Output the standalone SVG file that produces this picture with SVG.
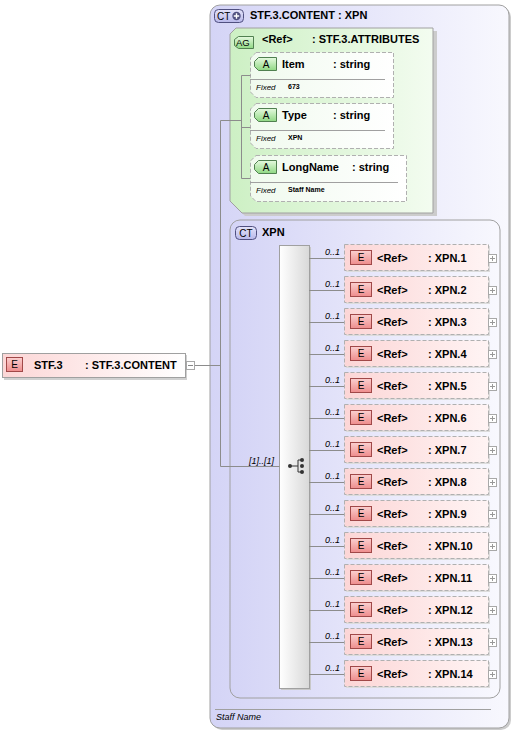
<svg xmlns="http://www.w3.org/2000/svg" width="514" height="732" viewBox="0 0 514 732">
<defs>
<linearGradient id="gCT" x1="0" y1="0" x2="1" y2="0"><stop offset="0" stop-color="#d4d4f6"/><stop offset="1" stop-color="#f8f8fe"/></linearGradient>
<linearGradient id="gAG" x1="0" y1="0" x2="1" y2="0"><stop offset="0" stop-color="#cdf0c4"/><stop offset="1" stop-color="#f3fcf0"/></linearGradient>
<linearGradient id="gAttr" x1="0" y1="0" x2="1" y2="0"><stop offset="0" stop-color="#f0faee"/><stop offset="1" stop-color="#ffffff"/></linearGradient>
<linearGradient id="gEl" x1="0" y1="0" x2="1" y2="0"><stop offset="0" stop-color="#fcd6d6"/><stop offset="1" stop-color="#fff4f4"/></linearGradient>
<linearGradient id="gMain" x1="0" y1="0" x2="1" y2="0"><stop offset="0" stop-color="#fcd6d6"/><stop offset="1" stop-color="#ffffff"/></linearGradient>
<linearGradient id="gE" x1="0" y1="0" x2="0" y2="1"><stop offset="0" stop-color="#fbd0d0"/><stop offset="1" stop-color="#ee8c8c"/></linearGradient>
<linearGradient id="gA" x1="0" y1="0" x2="0" y2="1"><stop offset="0" stop-color="#e6fae0"/><stop offset="1" stop-color="#8fd883"/></linearGradient>
<linearGradient id="gCTb" x1="0" y1="0" x2="0" y2="1"><stop offset="0" stop-color="#e4e4fa"/><stop offset="1" stop-color="#b8b8ea"/></linearGradient>
<linearGradient id="gSeq" x1="0" y1="0" x2="1" y2="0"><stop offset="0" stop-color="#ffffff"/><stop offset="1" stop-color="#d8d8d8"/></linearGradient>
</defs>
<style>
text{font-family:"Liberation Sans",Arial,sans-serif;fill:#000}
.b{font-weight:bold;font-size:11px}
.fx{font-style:italic;font-size:8px}
.fv{font-weight:bold;font-size:7px}
.occ{font-style:italic;font-size:9px}
.ln{stroke:#8c8c8c;stroke-width:1;fill:none}
.dash{stroke:#b0b0b0;stroke-dasharray:4,2;stroke-width:1}
.eb{fill:url(#gE);stroke:#a04848;stroke-width:1}
.bl{font-size:10px;text-anchor:middle}
.pm{fill:#fff;stroke:#a8a8a8;stroke-width:1}
</style>

<g id="ct-outer">
<rect x="212" y="7" width="299" height="723" rx="10" fill="#cccccc"/>
<rect x="210" y="5" width="299" height="723" rx="10" fill="url(#gCT)" stroke="#a0a0a0"/>
<rect x="214.5" y="9.5" width="29" height="13" rx="4" fill="url(#gCTb)" stroke="#505080"/>
<text x="217" y="20" style="font-size:10px">CT</text>
<circle cx="236.5" cy="16" r="4.2" fill="#505080"/>
<path d="M233.8 16h5.4M236.5 13.3v5.4" stroke="#fff" stroke-width="1.4"/>
<text class="b" x="250" y="19">STF.3.CONTENT : XPN</text>
<line x1="215" y1="709.5" x2="491" y2="709.5" stroke="#a0a0a0"/>
<text class="fx" x="216" y="720" style="font-size:9px">Staff Name</text>
</g>

<g id="ag">
<path d="M239 31h198v185h-192l-12-12v-167z" fill="#cccccc"/>
<path d="M236 28h197v185h-191l-12-12v-167z" fill="url(#gAG)" stroke="#a0a0a0"/>
<path d="M238.5 36.5h15v12h-15l-4-3v-6z" fill="url(#gA)" stroke="#508050"/>
<text x="236" y="46" style="font-size:9.5px">AG</text>
<text class="b" x="262" y="43">&lt;Ref&gt;</text>
<text class="b" x="312" y="43">: STF.3.ATTRIBUTES</text>
</g>

<g id="attr-item">
<path d="M256 52.5h137.5v45h-137.5l-5.5-5.5v-34z" fill="url(#gAttr)" class="dash"/>
<path d="M258.5 57.5h18v13h-18l-4-4v-5z" fill="url(#gA)" stroke="#508050"/>
<text class="bl" x="266" y="67.5">A</text>
<text class="b" x="282" y="68">Item</text>
<text class="b" x="333" y="68">: string</text>
<line x1="250" y1="79.5" x2="385" y2="79.5" stroke="#a0a0a0"/>
<text class="fx" x="256" y="90">Fixed</text>
<text class="fv" x="288" y="89">673</text>
</g>
<g id="attr-type">
<path d="M256 103.5h137.5v45h-137.5l-5.5-5.5v-34z" fill="url(#gAttr)" class="dash"/>
<path d="M258.5 108.5h18v13h-18l-4-4v-5z" fill="url(#gA)" stroke="#508050"/>
<text class="bl" x="266" y="118.5">A</text>
<text class="b" x="282" y="119">Type</text>
<text class="b" x="333" y="119">: string</text>
<line x1="250" y1="130.5" x2="385" y2="130.5" stroke="#a0a0a0"/>
<text class="fx" x="256" y="141">Fixed</text>
<text class="fv" x="288" y="140">XPN</text>
</g>
<g id="attr-longname">
<path d="M256 155.5h150.5v46h-150.5l-5.5-5.5v-35z" fill="url(#gAttr)" class="dash"/>
<path d="M258.5 160.5h18v13h-18l-4-4v-5z" fill="url(#gA)" stroke="#508050"/>
<text class="bl" x="266" y="170.5">A</text>
<text class="b" x="282" y="171">LongName</text>
<text class="b" x="352" y="171">: string</text>
<line x1="250" y1="182.5" x2="398" y2="182.5" stroke="#a0a0a0"/>
<text class="fx" x="256" y="193">Fixed</text>
<text class="fv" x="288" y="192">Staff Name</text>
</g>

<g id="ct-xpn">
<rect x="230" y="220" width="270" height="478" rx="10" fill="url(#gCT)" stroke="#a0a0a0"/>
<rect x="235.5" y="226.5" width="21" height="13" rx="4" fill="url(#gCTb)" stroke="#505080"/>
<text class="bl" x="246" y="237">CT</text>
<text class="b" x="262" y="236">XPN</text>
</g>

<g id="main">
<rect x="4" y="355" width="183" height="25" fill="#d0d0d0"/>
<rect x="2.5" y="353.5" width="183" height="24" fill="url(#gMain)" stroke="#a0a0a0"/>
<rect x="6.5" y="357.5" width="16" height="14" class="eb"/>
<text class="bl" x="14.5" y="368">E</text>
<text class="b" x="34" y="369">STF.3</text>
<text class="b" x="85" y="369">: STF.3.CONTENT</text>
<rect x="186.5" y="361.5" width="8" height="8" class="pm"/>
<line x1="188" y1="365.5" x2="193" y2="365.5" stroke="#888"/>
</g>

<g id="sequence">
<rect x="281" y="247" width="30" height="443" fill="#c8c8c8"/>
<rect x="279.5" y="245.5" width="30" height="443" fill="url(#gSeq)" stroke="#a0a0a0"/>
<line x1="290" y1="466" x2="298" y2="466" stroke="#333"/>
<line x1="298" y1="460" x2="298" y2="472" stroke="#333"/>
<path d="M298 460h4M298 472h4" stroke="#333"/>
<circle cx="290" cy="466" r="2" fill="#333"/>
<circle cx="302" cy="460" r="2" fill="#333"/>
<circle cx="302" cy="466" r="2" fill="#333"/>
<circle cx="302" cy="472" r="2" fill="#333"/>
</g>

<g id="connectors" class="ln">
<path d="M195 365.5h25.5M220.5 120.5v346M220.5 466.5h59"/>
<path d="M220.5 120.5h20.5M241.5 75.5v103M241.5 75.5h9M241.5 127.5h9M241.5 178.5h9"/>
<path d="M309 258.5h35M309 290.5h35M309 322.5h35M309 354.5h35M309 386.5h35M309 418.5h35M309 450.5h35M309 482.5h35M309 514.5h35M309 546.5h35M309 578.5h35M309 610.5h35M309 642.5h35M309 674.5h35"/>
</g>
<text class="occ" x="249" y="464">[1]..[1]</text>

<g id="labels-occ">
<text class="occ" x="325" y="255">0..1</text>
<text class="occ" x="325" y="287">0..1</text>
<text class="occ" x="325" y="319">0..1</text>
<text class="occ" x="325" y="351">0..1</text>
<text class="occ" x="325" y="383">0..1</text>
<text class="occ" x="325" y="415">0..1</text>
<text class="occ" x="325" y="447">0..1</text>
<text class="occ" x="325" y="479">0..1</text>
<text class="occ" x="325" y="511">0..1</text>
<text class="occ" x="325" y="543">0..1</text>
<text class="occ" x="325" y="575">0..1</text>
<text class="occ" x="325" y="607">0..1</text>
<text class="occ" x="325" y="639">0..1</text>
<text class="occ" x="325" y="671">0..1</text>
</g>

<defs>
<g id="elbox">
<rect x="2" y="2" width="144" height="26" fill="#dcdcdc"/>
<rect x="0.5" y="0.5" width="144" height="26" fill="url(#gEl)" class="dash"/>
<rect x="6.5" y="6.5" width="21" height="14" class="eb"/>
<text class="bl" x="17" y="17">E</text>
<text class="b" x="33" y="18">&lt;Ref&gt;</text>
<rect x="144.5" y="10.5" width="8" height="8" class="pm"/>
<path d="M146 14.5h5M148.5 12v5" stroke="#999"/>
</g>
</defs>

<g id="xpn1" transform="translate(344,244)"><use href="#elbox"/><text class="b" x="84" y="18">: XPN.1</text></g>
<g id="xpn2" transform="translate(344,276)"><use href="#elbox"/><text class="b" x="84" y="18">: XPN.2</text></g>
<g id="xpn3" transform="translate(344,308)"><use href="#elbox"/><text class="b" x="84" y="18">: XPN.3</text></g>
<g id="xpn4" transform="translate(344,340)"><use href="#elbox"/><text class="b" x="84" y="18">: XPN.4</text></g>
<g id="xpn5" transform="translate(344,372)"><use href="#elbox"/><text class="b" x="84" y="18">: XPN.5</text></g>
<g id="xpn6" transform="translate(344,404)"><use href="#elbox"/><text class="b" x="84" y="18">: XPN.6</text></g>
<g id="xpn7" transform="translate(344,436)"><use href="#elbox"/><text class="b" x="84" y="18">: XPN.7</text></g>
<g id="xpn8" transform="translate(344,468)"><use href="#elbox"/><text class="b" x="84" y="18">: XPN.8</text></g>
<g id="xpn9" transform="translate(344,500)"><use href="#elbox"/><text class="b" x="84" y="18">: XPN.9</text></g>
<g id="xpn10" transform="translate(344,532)"><use href="#elbox"/><text class="b" x="84" y="18">: XPN.10</text></g>
<g id="xpn11" transform="translate(344,564)"><use href="#elbox"/><text class="b" x="84" y="18">: XPN.11</text></g>
<g id="xpn12" transform="translate(344,596)"><use href="#elbox"/><text class="b" x="84" y="18">: XPN.12</text></g>
<g id="xpn13" transform="translate(344,628)"><use href="#elbox"/><text class="b" x="84" y="18">: XPN.13</text></g>
<g id="xpn14" transform="translate(344,660)"><use href="#elbox"/><text class="b" x="84" y="18">: XPN.14</text></g>
</svg>
